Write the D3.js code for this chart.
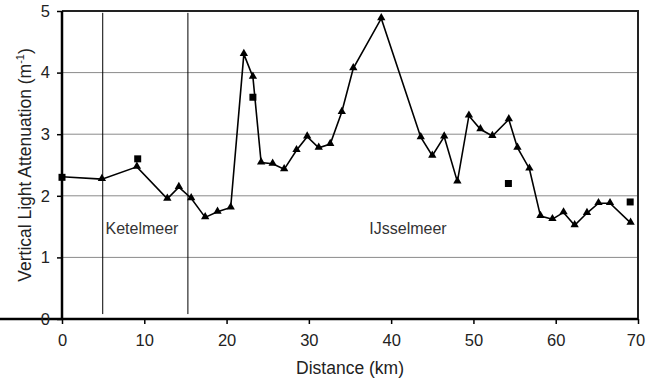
<!DOCTYPE html>
<html><head><meta charset="utf-8">
<script src="https://cdn.jsdelivr.net/npm/d3@7"></script>
<style>
body{margin:0;background:#fff;}
svg{display:block;font-family:"Liberation Sans",Arial,sans-serif;}
</style></head>
<body>
<svg id="c" width="646" height="383"></svg>
<script>
// Line series (triangles): distance (km) and attenuation (m^-1)
const lineDist = [0, 4.85, 9.1, 12.8, 14.2, 15.7, 17.4, 18.9, 20.5, 22.1, 23.2, 24.2, 25.6, 27.0, 28.5, 29.8, 31.2, 32.6, 34.0, 35.4, 38.8, 43.6, 45.0, 46.45, 48.05, 49.45, 50.85, 52.3, 54.3, 55.35, 56.8, 58.15, 59.6, 60.95, 62.3, 63.8, 65.2, 66.6, 69.1];
const lineAtt  = [2.31, 2.27, 2.47, 1.95, 2.14, 1.96, 1.65, 1.74, 1.81, 4.30, 3.93, 2.54, 2.52, 2.43, 2.74, 2.96, 2.78, 2.84, 3.36, 4.07, 4.88, 2.95, 2.65, 2.96, 2.23, 3.30, 3.08, 2.97, 3.24, 2.78, 2.44, 1.67, 1.62, 1.73, 1.52, 1.72, 1.88, 1.88, 1.56];
// Separate square points
const sqDist = [0, 9.2, 23.2, 54.25, 69.05];
const sqAtt  = [2.30, 2.60, 3.60, 2.20, 1.90];
// Boundary lines between lakes
const boundaries = [4.95, 15.3];
const lakeLabels = ["Ketelmeer", "IJsselmeer"];
const lakeLabelX = [9.72, 42.05];
const lakeLabelY = [1.38, 1.38];
const xTicks = [0, 10, 20, 30, 40, 50, 60, 70];
const yTicks = [0, 1, 2, 3, 4, 5];

const svg = d3.select("#c");
const L = 62, R = 638, T = 11, B = 319;
const x = d3.scaleLinear().domain([0, 70]).range([L, R]);
const y = d3.scaleLinear().domain([0, 5]).range([B, T]);

// gridlines
svg.append("g").selectAll("line").data(yTicks.filter(v => v > 0 && v < 5)).join("line")
  .attr("x1", L).attr("x2", R).attr("y1", d => y(d)).attr("y2", d => y(d))
  .attr("stroke", "#8a8a8a").attr("stroke-width", 1);

// frame top/right
svg.append("path").attr("d", `M${L},${T}H${R}V${B}`).attr("fill", "none")
  .attr("stroke", "#222").attr("stroke-width", 2);

// boundary lines
svg.append("g").selectAll("line").data(boundaries).join("line")
  .attr("x1", d => x(d)).attr("x2", d => x(d)).attr("y1", y(4.97)).attr("y2", y(0.08))
  .attr("stroke", "#000").attr("stroke-width", 1);

// lake labels
svg.append("g").selectAll("text").data(lakeLabels).join("text")
  .attr("x", (d, i) => x(lakeLabelX[i])).attr("y", (d, i) => y(lakeLabelY[i]))
  .attr("text-anchor", "middle").attr("font-size", 16).attr("fill", "#333")
  .text(d => d);

// axes
const xAxis = svg.append("g").attr("transform", `translate(0,${B})`)
  .call(d3.axisBottom(x).tickValues(xTicks).tickSize(5).tickPadding(10).tickFormat(d3.format("d")));
const yAxis = svg.append("g").attr("transform", `translate(${L},0)`)
  .call(d3.axisLeft(y).tickValues(yTicks).tickSize(5).tickPadding(7).tickFormat(d3.format("d")));
[xAxis, yAxis].forEach(g => {
  g.select(".domain").attr("stroke", "#000").attr("stroke-width", 2.5);
  g.selectAll(".tick line").attr("stroke", "#000").attr("stroke-width", 1.5);
  g.selectAll(".tick text").attr("font-size", 16.5).attr("fill", "#222")
    .attr("font-family", "Liberation Sans, Arial, sans-serif");
});
xAxis.selectAll(".tick text").filter(d => d === 70).attr("dx", -2.5);
yAxis.select(".domain").attr("d", `M0,${B}V${T}`);
xAxis.select(".domain").attr("d", `M0,0H${R}`);

// data line
const pts = lineDist.map((d, i) => ({x: d, y: lineAtt[i]}));
svg.append("path").datum(pts)
  .attr("d", d3.line().x(d => x(d.x)).y(d => y(d.y)))
  .attr("fill", "none").attr("stroke", "#000").attr("stroke-width", 1.6);
svg.append("g").selectAll("path").data(pts.filter(d => d.x > 0)).join("path")
  .attr("transform", d => `translate(${x(d.x)},${y(d.y) - 0.5})`)
  .attr("d", d3.symbol(d3.symbolTriangle, 30)).attr("fill", "#000");

// squares
const sq = sqDist.map((d, i) => ({x: d, y: sqAtt[i]}));
svg.append("g").selectAll("path").data(sq).join("path")
  .attr("transform", d => `translate(${x(d.x)},${y(d.y)})`)
  .attr("d", d3.symbol(d3.symbolSquare, 49)).attr("fill", "#000");

// titles
svg.append("text").attr("x", (L + R) / 2).attr("y", 374).attr("text-anchor", "middle")
  .attr("font-size", 17.5).attr("fill", "#222").text("Distance (km)");
const yt = svg.append("text").attr("transform", `translate(31,${(T + B) / 2}) rotate(-90)`)
  .attr("text-anchor", "middle").attr("font-size", 17.5).attr("fill", "#222");
yt.append("tspan").text("Vertical Light Attenuation (m");
yt.append("tspan").attr("dy", -7).attr("font-size", 11).text("-1");
yt.append("tspan").attr("dy", 7).text(")");
</script>
</body></html>
